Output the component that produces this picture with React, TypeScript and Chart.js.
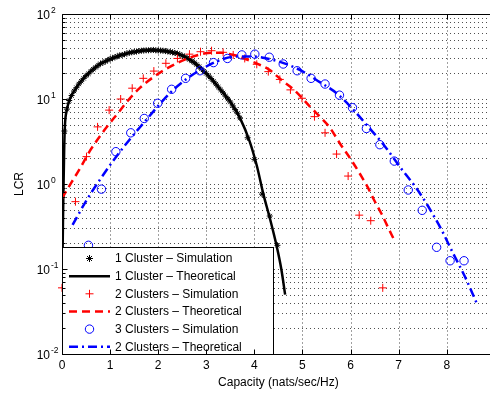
import React, { useEffect, useRef } from "react";
import { Chart, registerables } from "chart.js";

Chart.register(...registerables);

// ---- data ----
const blackTheoryX = [0.005, 0.01, 0.02, 0.03, 0.045, 0.06, 0.1, 0.17, 0.27, 0.37, 0.48, 0.65, 0.8, 1.0, 1.2, 1.45, 1.8, 2.1, 2.3, 2.5, 2.7, 2.9, 3.1, 3.3, 3.5, 3.7, 3.9, 4.05, 4.19, 4.32, 4.46, 4.56, 4.64];
const blackTheoryY = [0.05, 0.12, 0.35, 0.8, 2.5, 4.8, 7.4, 10.2, 12.8, 15.5, 18.3, 22.5, 26, 29.5, 32.5, 35.5, 37.5, 37, 35.5, 32.5, 28, 22.5, 17.5, 12.8, 9.3, 6.0, 3.2, 1.65, 0.75, 0.4, 0.19, 0.1, 0.05];

const blackSimX = [0.05, 0.1, 0.15, 0.2, 0.25, 0.3, 0.35, 0.4, 0.45, 0.5, 0.55, 0.6, 0.65, 0.7, 0.75, 0.8, 0.85, 0.9, 0.95, 1.0, 1.05, 1.1, 1.15, 1.2, 1.25, 1.3, 1.35, 1.4, 1.45, 1.5, 1.55, 1.6, 1.65, 1.7, 1.75, 1.8, 1.85, 1.9, 1.95, 2.0, 2.05, 2.1, 2.15, 2.2, 2.25, 2.3, 2.35, 2.4, 2.45, 2.5, 2.55, 2.6, 2.65, 2.7, 2.75, 2.8, 2.85, 2.9, 2.95, 3.0, 3.05, 3.1, 3.15, 3.2, 3.25, 3.3, 3.35, 3.4, 3.45, 3.5, 3.55, 3.6, 3.65, 3.7, 3.86, 4.0, 4.16, 4.32, 4.48];
const blackSimY = [4.2, 7.6, 9.6, 11.0, 12.4, 13.6, 15.0, 16.2, 17.5, 18.8, 19.8, 21.2, 22.4, 23.6, 24.8, 26.0, 26.8, 27.6, 28.6, 29.6, 30.2, 31.0, 31.8, 32.6, 33.0, 33.6, 34.4, 35.0, 35.4, 35.8, 36.2, 36.6, 37.0, 37.2, 37.4, 37.4, 37.6, 37.8, 37.4, 37.2, 37.2, 37.0, 36.6, 36.2, 35.8, 35.4, 34.8, 34.2, 33.4, 32.4, 31.4, 30.4, 29.2, 28.0, 26.8, 25.4, 24.0, 22.6, 21.2, 20.0, 18.6, 17.4, 16.2, 15.0, 13.8, 12.8, 11.8, 10.8, 10.0, 9.2, 8.3, 7.5, 6.8, 6.0, 3.5, 1.95, 0.76, 0.42, 0.19];

const redSimX = [0.0, 0.28, 0.51, 0.74, 0.98, 1.22, 1.46, 1.69, 1.91, 2.16, 2.40, 2.65, 2.88, 3.11, 3.35, 3.56, 3.80, 4.05, 4.29, 4.53, 4.75, 4.99, 5.25, 5.47, 5.71, 5.95, 6.18, 6.42, 6.67];
const redSimY = [0.06, 0.62, 2.1, 4.7, 7.4, 10, 13.4, 17.5, 21.3, 26.3, 30, 33.7, 36, 37, 35.4, 33, 30, 25.6, 21, 17, 12.8, 10.2, 6.2, 4.0, 2.25, 1.24, 0.43, 0.37, 0.06];

const redTheoryX = [0.0, 0.2, 0.37, 0.58, 0.89, 1.17, 1.35, 1.62, 1.93, 2.28, 2.63, 3.04, 3.3, 3.55, 3.77, 4.08, 4.32, 4.57, 4.84, 5.16, 5.40, 5.57, 5.78, 6.02, 6.23, 6.37, 6.47, 6.65, 6.79, 6.89];
const redTheoryY = [0.68, 1.05, 1.51, 2.45, 4.37, 6.9, 9.3, 13.5, 18.6, 24.5, 30.2, 34.7, 35.1, 33.1, 30.2, 25.7, 21.9, 16.6, 12.6, 8.1, 5.9, 4.6, 3.0, 1.9, 1.22, 0.89, 0.68, 0.44, 0.30, 0.23];

const blueSimX = [0.55, 0.82, 1.12, 1.43, 1.71, 1.99, 2.28, 2.57, 2.87, 3.15, 3.44, 3.74, 4.01, 4.31, 4.60, 4.89, 5.18, 5.47, 5.77, 6.04, 6.33, 6.61, 6.91, 7.20, 7.49, 7.79, 8.07, 8.36];
const blueSimY = [0.19, 0.87, 2.4, 4.0, 5.9, 8.9, 13, 17.5, 21.5, 26.8, 30, 33, 33.7, 31, 25.8, 21.5, 17.5, 15, 11.1, 7.9, 4.5, 2.9, 1.86, 0.85, 0.49, 0.18, 0.125, 0.125];

const blueTheoryX = [0.22, 0.5, 0.8, 1.1, 1.4, 1.7, 2.0, 2.3, 2.6, 2.9, 3.25, 3.63, 3.98, 4.32, 4.67, 5.02, 5.36, 5.71, 6.02, 6.37, 6.72, 7.03, 7.37, 7.62, 7.89, 8.14, 8.38, 8.62];
const blueTheoryY = [0.33, 0.63, 1.15, 2.0, 3.3, 5.25, 8.3, 12.6, 17.4, 22.4, 28.2, 31.6, 31.6, 29.5, 25.7, 20.9, 15.8, 11.7, 7.9, 4.7, 2.75, 1.58, 0.89, 0.54, 0.29, 0.15, 0.081, 0.04];

const xTicks = [0, 1, 2, 3, 4, 5, 6, 7, 8];
const yDecades = [-2, -1, 0, 1, 2];
const legendLabels = [
  "1 Cluster \u2013 Simulation",
  "1 Cluster \u2013 Theoretical",
  "2 Clusters \u2013 Simulation",
  "2 Clusters \u2013 Theoretical",
  "3 Clusters \u2013 Simulation",
  "2 Clusters \u2013 Theoretical",
];
const xTitle = "Capacity (nats/sec/Hz)";
const yTitle = "LCR";

const FONT = "Liberation Sans, Arial, Helvetica, sans-serif";

const pts = (xs: number[], ys: number[]) => xs.map((x, i) => ({ x, y: ys[i] }));

function drawMarker(ctx: CanvasRenderingContext2D, kind: string, x: number, y: number, r: number, color: string) {
  ctx.save();
  ctx.strokeStyle = color;
  ctx.lineWidth = 1;
  ctx.setLineDash([]);
  ctx.beginPath();
  if (kind === "star") {
    for (let k = 0; k < 4; k++) {
      const ang = (k * Math.PI) / 4;
      ctx.moveTo(x - r * Math.cos(ang), y - r * Math.sin(ang));
      ctx.lineTo(x + r * Math.cos(ang), y + r * Math.sin(ang));
    }
  } else if (kind === "cross") {
    ctx.moveTo(x - r, y);
    ctx.lineTo(x + r, y);
    ctx.moveTo(x, y - r);
    ctx.lineTo(x, y + r);
  } else {
    ctx.arc(x, y, r, 0, Math.PI * 2);
  }
  ctx.stroke();
  ctx.restore();
}

const framePlugin = {
  id: "frame",
  beforeDatasetsDraw(chart: any) {
    const { ctx, chartArea: a, scales } = chart;
    const xs = scales.x;
    const ys = scales.y;
    ctx.save();
    ctx.lineWidth = 1;
    ctx.strokeStyle = "#a0a0a0";
    ctx.setLineDash([2, 2]);
    for (const t of xTicks) {
      if (t === 0) continue;
      const px = Math.round(xs.getPixelForValue(t)) + 0.5;
      ctx.beginPath();
      ctx.moveTo(px, a.top);
      ctx.lineTo(px, a.bottom);
      ctx.stroke();
    }
    ctx.strokeStyle = "#505050";
    ctx.setLineDash([1, 3]);
    for (let d = -2; d < 2; d++) {
      for (let m = 1; m < 10; m++) {
        if (d === -2 && m === 1) continue;
        const v = m * Math.pow(10, d);
        const py = Math.round(ys.getPixelForValue(v)) + 0.5;
        ctx.beginPath();
        ctx.moveTo(a.left, py);
        ctx.lineTo(a.right, py);
        ctx.stroke();
      }
    }
    ctx.restore();
  },
  afterDatasetsDraw(chart: any) {
    const { ctx, chartArea: a, scales } = chart;
    const xs = scales.x;
    const ys = scales.y;
    ctx.save();

    // ---- legend ----
    const lx0 = a.left + 0.5;
    const lx1 = 273.5;
    const ly0 = 247.5;
    const ly1 = a.bottom + 0.5;
    ctx.fillStyle = "#ffffff";
    ctx.fillRect(lx0, ly0, lx1 - lx0, ly1 - ly0);
    ctx.strokeStyle = "#000";
    ctx.lineWidth = 1;
    ctx.setLineDash([]);
    ctx.strokeRect(lx0, ly0, lx1 - lx0, ly1 - ly0);

    const rowY0 = 258.5;
    const rowH = 17.65;
    const sx0 = 69;
    const sx1 = 110;
    const mx = 89.5;
    ctx.font = `12px ${FONT}`;
    ctx.textBaseline = "middle";
    ctx.textAlign = "left";
    legendLabels.forEach((lab, i) => {
      const y = rowY0 + i * rowH;
      if (i === 0) drawMarker(ctx, "star", mx, y, 3.5, "#000");
      if (i === 2) drawMarker(ctx, "cross", mx, y, 4, "#ff0000");
      if (i === 4) drawMarker(ctx, "circle", mx, y, 4.2, "#0000ff");
      if (i === 1 || i === 3 || i === 5) {
        ctx.save();
        ctx.lineWidth = 2.5;
        ctx.strokeStyle = i === 1 ? "#000" : i === 3 ? "#ff0000" : "#0000ff";
        ctx.setLineDash(i === 1 ? [] : i === 3 ? [8, 5] : [9, 4, 2, 4]);
        ctx.beginPath();
        ctx.moveTo(sx0, y);
        ctx.lineTo(sx1, y);
        ctx.stroke();
        ctx.restore();
      }
      ctx.fillStyle = "#000";
      ctx.fillText(lab, 115, y + 0.5);
    });

    // ---- axes box ----
    ctx.strokeStyle = "#000";
    ctx.lineWidth = 1;
    ctx.setLineDash([]);
    const L = a.left + 0.5;
    const T = a.top + 0.5;
    const B = a.bottom + 0.5;
    ctx.beginPath();
    ctx.moveTo(L, B);
    ctx.lineTo(L, T);
    ctx.lineTo(a.right + 5, T);
    ctx.moveTo(L, B);
    ctx.lineTo(a.right + 5, B);
    ctx.stroke();

    ctx.beginPath();
    for (const t of xTicks) {
      const px = Math.round(xs.getPixelForValue(t)) + 0.5;
      ctx.moveTo(px, B);
      ctx.lineTo(px, B - 5);
      ctx.moveTo(px, T);
      ctx.lineTo(px, T + 5);
    }
    for (let d = -2; d <= 2; d++) {
      for (let m = 1; m < 10; m++) {
        if (d === 2 && m > 1) continue;
        const v = m * Math.pow(10, d);
        const py = Math.round(ys.getPixelForValue(v)) + 0.5;
        const len = m === 1 ? 5 : 3;
        ctx.moveTo(L, py);
        ctx.lineTo(L + len, py);
      }
    }
    ctx.stroke();

    ctx.fillStyle = "#000";
    ctx.font = `12px ${FONT}`;
    ctx.textAlign = "center";
    ctx.textBaseline = "middle";
    for (const t of xTicks) {
      const px = xs.getPixelForValue(t);
      ctx.fillText(String(t), px, a.bottom + 12);
    }
    const cx = (xs.getPixelForValue(0) + xs.getPixelForValue(9)) / 2;
    ctx.fillText(xTitle, cx, a.bottom + 29);

    for (const d of yDecades) {
      const py = ys.getPixelForValue(Math.pow(10, d));
      ctx.font = `12px ${FONT}`;
      ctx.textAlign = "right";
      ctx.fillText("10", 50, py + 2);
      ctx.font = `8.5px ${FONT}`;
      ctx.textAlign = "left";
      ctx.fillText(String(d), 51, py - 3.5);
    }

    ctx.save();
    ctx.translate(20, (a.top + a.bottom) / 2);
    ctx.rotate(-Math.PI / 2);
    ctx.font = `12px ${FONT}`;
    ctx.textAlign = "center";
    ctx.textBaseline = "middle";
    ctx.fillText(yTitle, 0, 0);
    ctx.restore();

    ctx.restore();
  },
};

export default function App() {
  const ref = useRef<HTMLCanvasElement | null>(null);
  useEffect(() => {
    if (!ref.current) return;
    const lineDs = (label: string, xs: number[], ys: number[], color: string, dash: number[], order: number) => ({
      label,
      data: pts(xs, ys),
      showLine: true,
      borderColor: color,
      backgroundColor: color,
      borderWidth: 2.5,
      borderDash: dash,
      pointRadius: 0,
      cubicInterpolationMode: "monotone" as const,
      order,
    });
    const simDs = (label: string, xs: number[], ys: number[], color: string, style: string, r: number, order: number) => ({
      label,
      data: pts(xs, ys),
      showLine: false,
      borderColor: color,
      backgroundColor: "rgba(0,0,0,0)",
      pointStyle: style,
      pointRadius: r,
      pointBorderWidth: 1,
      pointBorderColor: color,
      order,
      clip: false as any,
    });
    const chart = new Chart(ref.current, {
      type: "scatter",
      data: {
        datasets: [
          simDs(legendLabels[0], blackSimX, blackSimY, "#000000", "star", 3, 6),
          lineDs(legendLabels[1], blackTheoryX, blackTheoryY, "#000000", [], 5),
          simDs(legendLabels[2], redSimX, redSimY, "#ff0000", "cross", 4, 4),
          lineDs(legendLabels[3], redTheoryX, redTheoryY, "#ff0000", [8, 5], 3),
          simDs(legendLabels[4], blueSimX, blueSimY, "#0000ff", "circle", 4.2, 2),
          lineDs(legendLabels[5], blueTheoryX, blueTheoryY, "#0000ff", [9, 4, 2, 4], 1),
        ] as any,
      },
      options: {
        responsive: false,
        animation: false,
        events: [],
        layout: { autoPadding: false, padding: { top: 14, left: 0, right: 0, bottom: 0 } },
        plugins: { legend: { display: false }, tooltip: { enabled: false } },
        scales: {
          x: {
            type: "linear",
            min: 0,
            max: 8.9,
            grid: { display: false },
            border: { display: false },
            ticks: { display: false },
            afterFit: (s: any) => {
              s.height = 42;
            },
          },
          y: {
            type: "logarithmic",
            min: 0.01,
            max: 100,
            grid: { display: false },
            border: { display: false },
            ticks: { display: false },
            afterFit: (s: any) => {
              s.width = 62;
            },
          },
        },
      } as any,
      plugins: [framePlugin as any],
    });
    return () => chart.destroy();
  }, []);
  return (
    <div style={{ position: "fixed", left: 0, top: 0, width: 490, height: 396, background: "#fff", overflow: "hidden" }}>
      <canvas ref={ref} width={490} height={396} style={{ width: 490, height: 396, display: "block" }} />
    </div>
  );
}
